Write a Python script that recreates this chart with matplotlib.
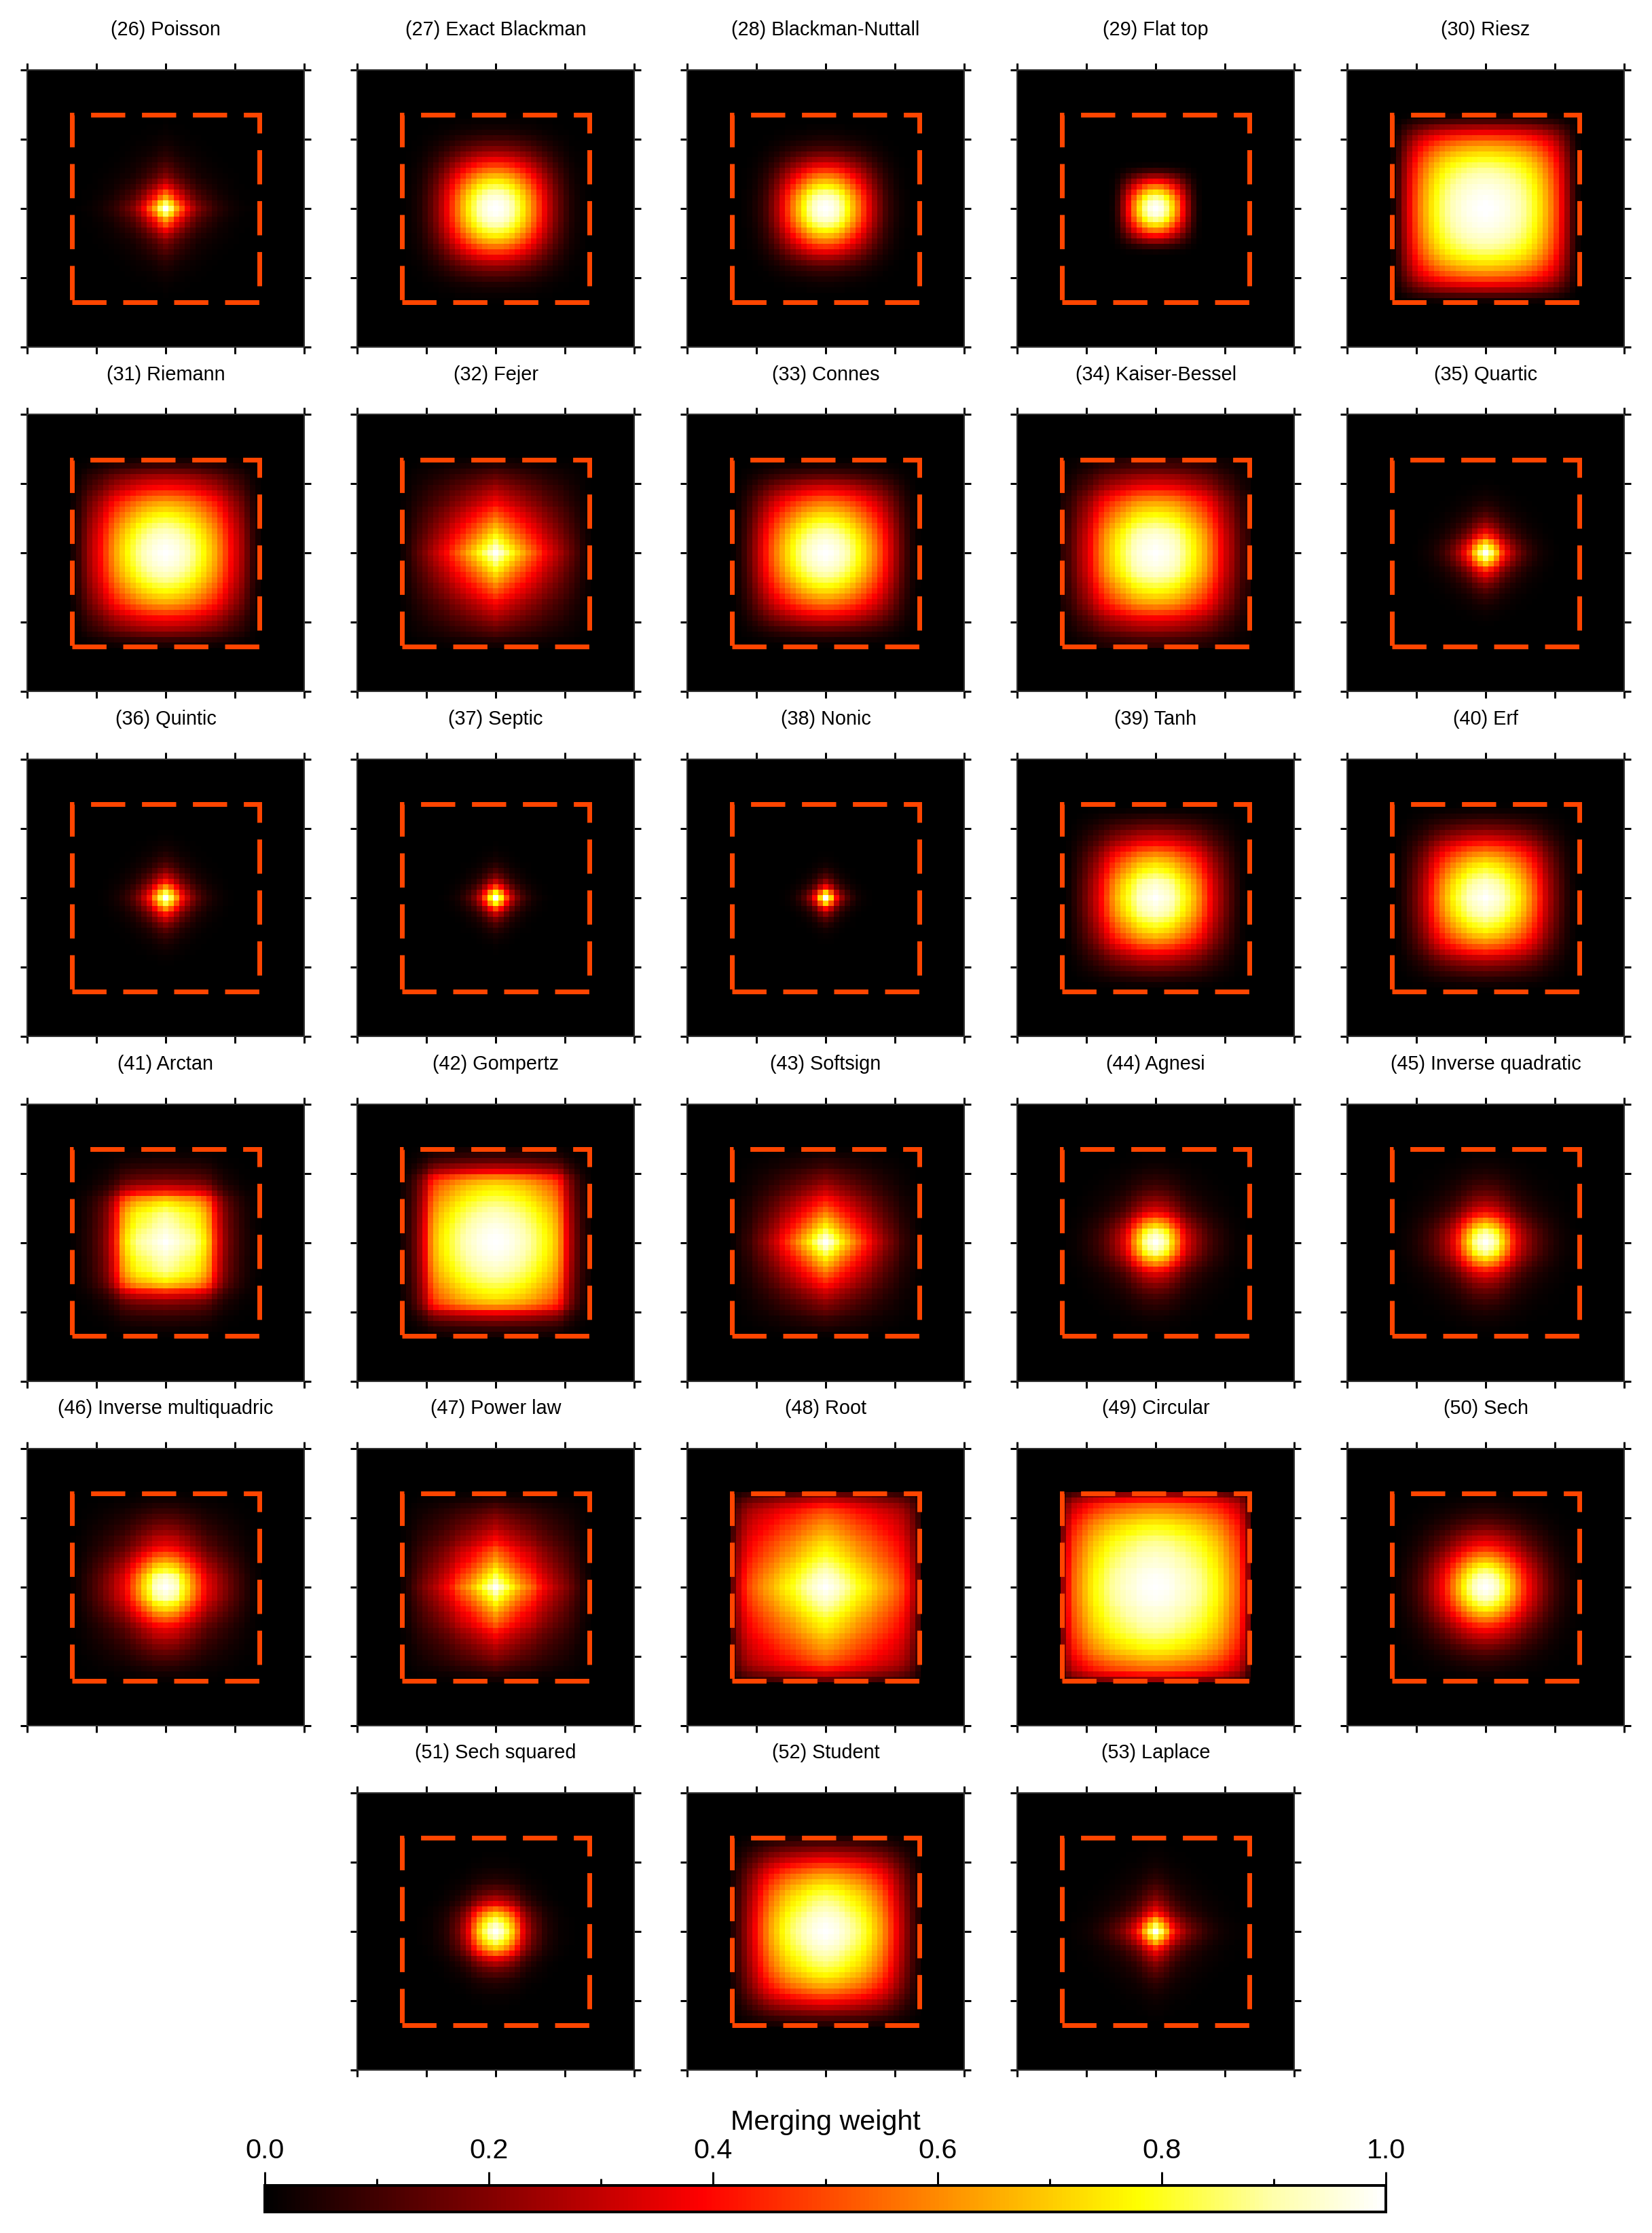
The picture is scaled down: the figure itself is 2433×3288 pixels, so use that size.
import numpy as np
import matplotlib
matplotlib.use("Agg")
import matplotlib.pyplot as plt
from matplotlib.colors import LinearSegmentedColormap, Normalize
from matplotlib.cm import ScalarMappable

plt.rcParams['font.family'] = ['Liberation Sans', 'DejaVu Sans']
plt.rcParams['lines.scale_dashes'] = False

# Centre-row weight per cell, from the central cell (offset 0) out to offset 17
poisson = [1, .85, .65, .52, .38, .28, .20, .155, .12, .085, .06, .045, .03, .02, .012, .008, .004, 0]
exact_blackman = [1, .99, .96, .91, .84, .76, .67, .57, .47, .37, .28, .20, .14, .09, .05, .03, .015, .005]
blackman_nuttall = [1, .985, .945, .875, .78, .68, .58, .47, .36, .26, .18, .11, .07, .04, .02, .01, .003, 0]
flat_top = [1, .97, .88, .74, .58, .40, .23, .09, .02, 0, 0, 0, 0, 0, 0, 0, 0, 0]
riesz = [1, .998, .99, .98, .965, .945, .92, .89, .85, .80, .74, .67, .59, .49, .37, .25, .12, .03]
riemann = [1, .99, .975, .95, .92, .88, .83, .78, .72, .66, .58, .49, .40, .33, .26, .17, .09, .04]
fejer = [1, .93, .86, .79, .72, .66, .59, .53, .47, .40, .35, .30, .25, .20, .155, .11, .06, .03]
connes = [1, .99, .97, .94, .90, .85, .79, .73, .66, .59, .51, .42, .33, .24, .155, .09, .04, .01]
kaiser_bessel = [1, .99, .98, .96, .93, .88, .83, .78, .72, .66, .58, .49, .39, .31, .25, .17, .11, .08]
quartic = [1, .87, .70, .49, .36, .26, .18, .125, .085, .055, .035, .02, .012, .005, 0, 0, 0, 0]
quintic = [1, .83, .62, .42, .30, .20, .13, .085, .055, .035, .02, .01, .005, 0, 0, 0, 0, 0]
septic = [1, .78, .50, .30, .18, .11, .065, .035, .02, .01, .005, 0, 0, 0, 0, 0, 0, 0]
nonic = [1, .72, .40, .22, .12, .065, .03, .015, .006, .002, 0, 0, 0, 0, 0, 0, 0, 0]
tanh = [1, .98, .96, .93, .87, .81, .75, .68, .60, .50, .40, .31, .24, .17, .11, .06, .02, 0]
erf = [1, .98, .96, .93, .88, .83, .77, .70, .62, .53, .43, .32, .24, .17, .11, .06, .025, .005]
arctan = [1, .98, .96, .93, .91, .89, .84, .77, .67, .47, .33, .22, .155, .11, .07, .045, .025, .01]
gompertz = [1, .995, .985, .97, .95, .93, .90, .87, .83, .79, .75, .69, .58, .38, .25, .15, .08, .04]
softsign = [1, .93, .85, .76, .69, .61, .54, .47, .41, .33, .28, .22, .18, .14, .09, .07, .04, .015]
agnesi = [1, .95, .88, .73, .60, .44, .33, .26, .20, .15, .11, .08, .06, .04, .025, .015, .01, 0]
inverse_quadratic = [1, .95, .88, .74, .61, .46, .35, .27, .21, .16, .12, .09, .065, .045, .03, .018, .01, .005]
inverse_multiquadric = [1, .97, .93, .82, .73, .62, .52, .42, .34, .30, .24, .20, .155, .12, .085, .055, .03, .015]
power_law = [1, .92, .85, .77, .70, .63, .58, .52, .44, .38, .33, .28, .24, .20, .155, .11, .06, .03]
root = [1, .98, .95, .915, .88, .84, .80, .77, .74, .70, .66, .63, .59, .55, .50, .42, .31, .17]
circular = [1, .995, .99, .98, .96, .95, .93, .91, .89, .86, .82, .79, .74, .68, .61, .55, .42, .24]
sech = [1, .98, .93, .86, .77, .67, .57, .47, .38, .31, .24, .18, .13, .09, .06, .04, .02, .01]
sech_squared = [1, .94, .85, .72, .56, .37, .26, .17, .12, .07, .045, .03, .015, .01, .005, 0, 0, 0]
student = [1, .99, .975, .95, .92, .89, .86, .82, .77, .71, .65, .57, .48, .38, .29, .20, .12, .06]
laplace = [1, .85, .67, .47, .35, .27, .20, .155, .12, .085, .06, .045, .03, .02, .015, .01, .005, 0]

titles = ["(26) Poisson", "(27) Exact Blackman", "(28) Blackman-Nuttall", "(29) Flat top", "(30) Riesz",
          "(31) Riemann", "(32) Fejer", "(33) Connes", "(34) Kaiser-Bessel", "(35) Quartic",
          "(36) Quintic", "(37) Septic", "(38) Nonic", "(39) Tanh", "(40) Erf",
          "(41) Arctan", "(42) Gompertz", "(43) Softsign", "(44) Agnesi", "(45) Inverse quadratic",
          "(46) Inverse multiquadric", "(47) Power law", "(48) Root", "(49) Circular", "(50) Sech",
          "(51) Sech squared", "(52) Student", "(53) Laplace"]
profiles = [poisson, exact_blackman, blackman_nuttall, flat_top, riesz,
            riemann, fejer, connes, kaiser_bessel, quartic,
            quintic, septic, nonic, tanh, erf,
            arctan, gompertz, softsign, agnesi, inverse_quadratic,
            inverse_multiquadric, power_law, root, circular, sech,
            sech_squared, student, laplace]
colorbar_major = [0.0, 0.2, 0.4, 0.6, 0.8, 1.0]
colorbar_minor = [0.1, 0.3, 0.5, 0.7, 0.9]
cbar_label = "Merging weight"

W, H = 2433, 3288
DPI = 300
N_HALF = 25            # cells from the centre to the panel edge
BOX_HALF = 17.2        # half width of the dashed box, in cells
PANEL = 408
COLS = [40, 526, 1012, 1498, 1984]
ROWS = [103, 610.5, 1118, 1625.5, 2133, 2640]
px = 72 / DPI

cmap = LinearSegmentedColormap.from_list(
    "merge", [(0, "#000000"), (.39, "#ff0000"), (.78, "#ffff00"), (.9, "#ffffaa"), (1, "#ffffff")], N=256)
norm = Normalize(0, 1)


def add_axes_px(x, y, w, h):
    return fig.add_axes([x / W, 1 - (y + h) / H, w / W, h / H])


def weight_grid(profile):
    half = np.zeros(N_HALF + 1)
    half[:len(profile)] = profile
    line = np.concatenate([half[:0:-1], half])
    return np.outer(line, line)


fig = plt.figure(figsize=(W / DPI, H / DPI), dpi=DPI, facecolor="white")
positions = [(c, r) for r in range(5) for c in range(5)] + [(1, 5), (2, 5), (3, 5)]
edge = N_HALF + 0.5
tick_pos = np.linspace(-edge, edge, 5)

for (c, r), title, profile in zip(positions, titles, profiles):
    ax = add_axes_px(COLS[c], ROWS[r], PANEL, PANEL)
    ax.imshow(weight_grid(profile), cmap=cmap, norm=norm, origin="lower",
              extent=[-edge, edge, -edge, edge], interpolation="nearest", aspect="auto")
    bx = [-BOX_HALF, BOX_HALF, BOX_HALF, -BOX_HALF, -BOX_HALF]
    by = [-BOX_HALF, -BOX_HALF, BOX_HALF, BOX_HALF, -BOX_HALF]
    ax.plot(bx, by, color="#ff4500", lw=7 * px, linestyle=(0, (50.4 * px, 24.6 * px)),
            dash_capstyle="butt", dash_joinstyle="miter", zorder=3)
    ax.set_xlim(-edge, edge)
    ax.set_ylim(-edge, edge)
    ax.set_xticks(tick_pos)
    ax.set_yticks(tick_pos)
    ax.tick_params(which="major", direction="out", length=10 * px, width=3 * px, color="black",
                   top=True, right=True, bottom=True, left=True,
                   labelbottom=False, labelleft=False)
    for s in ax.spines.values():
        s.set_linewidth(2 * px)
        s.set_color("#333333")
    ax.text(0.5, 1 + 59 / PANEL, title, transform=ax.transAxes, ha="center", va="center",
            fontsize=6.95, color="black")

cax = add_axes_px(390, 3218, 1651, 39)
cb = fig.colorbar(ScalarMappable(norm=norm, cmap=cmap), cax=cax, orientation="horizontal")
cax.xaxis.set_ticks_position("top")
cax.set_xticks(colorbar_major)
cax.set_xticks(colorbar_minor, minor=True)
cax.set_xticklabels([f"{v:.1f}" for v in colorbar_major])
cax.tick_params(which="major", axis="x", length=20 * px, width=3 * px, labelsize=9.9, pad=12 * px)
cax.tick_params(which="minor", axis="x", length=10 * px, width=3 * px)
cb.outline.set_linewidth(4 * px)
cb.outline.set_edgecolor("black")
fig.text(1216 / W, 1 - 3125 / H, cbar_label, ha="center", va="center", fontsize=9.9, color="black")

fig.savefig("out.png", dpi=DPI, facecolor="white")
